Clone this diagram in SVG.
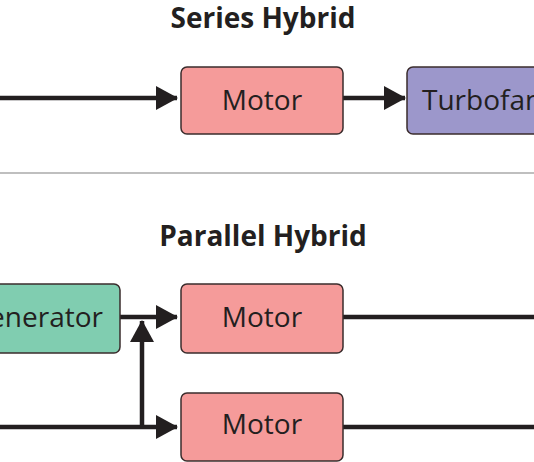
<svg xmlns="http://www.w3.org/2000/svg" width="534" height="462" viewBox="0 0 534 462">
<defs>
<marker id="ah" viewBox="0 0 22 24" refX="21" refY="12" markerWidth="22" markerHeight="24" markerUnits="userSpaceOnUse" orient="auto">
<path d="M0,0 L22,12 L0,24 Z" fill="#231f20"/>
</marker>
</defs>
<style>
.t{font-family:"Open Sans","Liberation Sans",sans-serif;font-weight:bold;font-size:28px;fill:#231f20;text-anchor:middle}
.l{font-family:"Open Sans","Liberation Sans",sans-serif;font-size:28px;fill:#231f20}
.box{stroke:#3a2c2c;stroke-width:1.5}
.motor{fill:#f59b9a}
.fan{fill:#9c97cb}
.gen{fill:#80cdb0}
.c{stroke:#231f20;stroke-width:4.5;fill:none}
</style>
<rect width="534" height="462" fill="#ffffff"/>
<text class="t" x="263" y="28">Series Hybrid</text>
<line x1="0" y1="173" x2="534" y2="173" stroke="#aaaaaa" stroke-width="1.5"/>
<text class="t" x="263" y="246">Parallel Hybrid</text>
<g id="connectors">
<line class="c" x1="0" y1="98" x2="177" y2="98" marker-end="url(#ah)"/>
<line class="c" x1="343" y1="98" x2="405" y2="98" marker-end="url(#ah)"/>
<line class="c" x1="120" y1="317" x2="177" y2="317" marker-end="url(#ah)"/>
<line class="c" x1="0" y1="427" x2="177" y2="427" marker-end="url(#ah)"/>
<line class="c" x1="142" y1="427" x2="142" y2="321" marker-end="url(#ah)"/>
<line class="c" x1="343" y1="317" x2="534" y2="317"/>
<line class="c" x1="343" y1="427" x2="534" y2="427"/>
</g>
<g id="series-motor">
<rect class="box motor" x="181" y="67" width="162" height="67" rx="6"/>
<text class="l" x="262" y="110" text-anchor="middle">Motor</text>
</g>
<g id="series-turbofan">
<rect class="box fan" x="407" y="67" width="160" height="67" rx="6"/>
<text class="l" x="422" y="110">Turbofan</text>
</g>
<g id="parallel-generator">
<rect class="box gen" x="-12" y="284" width="132" height="69" rx="6"/>
<text class="l" x="103" y="327" text-anchor="end">Generator</text>
</g>
<g id="parallel-motor-1">
<rect class="box motor" x="181" y="284" width="162" height="69" rx="6"/>
<text class="l" x="262" y="327" text-anchor="middle">Motor</text>
</g>
<g id="parallel-motor-2">
<rect class="box motor" x="181" y="393" width="162" height="68" rx="6"/>
<text class="l" x="262" y="434" text-anchor="middle">Motor</text>
</g>
</svg>
